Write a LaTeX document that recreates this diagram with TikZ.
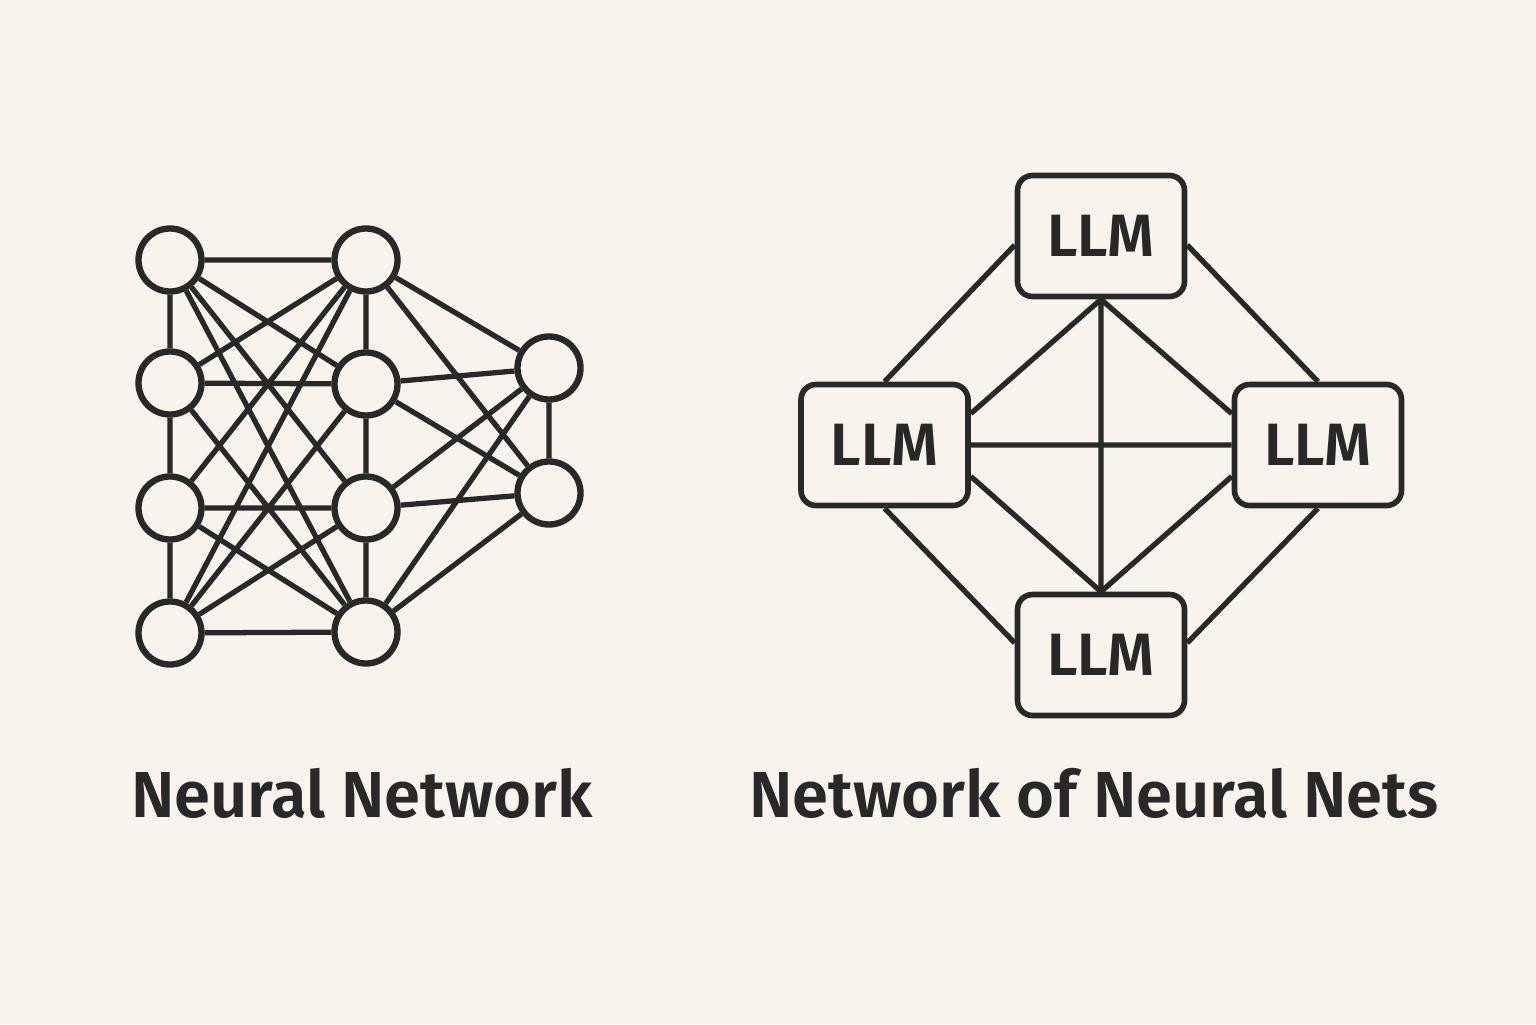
\documentclass[tikz,border=0pt]{standalone}
\usepackage{fontspec}
\setmainfont{Fira Sans}[BoldFont={* SemiBold}]
\usetikzlibrary{arrows}
\definecolor{paper}{RGB}{248,244,237}
\definecolor{ink}{RGB}{40,40,40}
\newcommand{\cellsize}{.63cm}
\newcommand{\wire}{1.5pt}

\begin{document}
\begin{tikzpicture}[
    neuron/.style={draw=ink, circle, fill=paper, line width=1.8pt, inner sep=0pt, minimum size=\cellsize},
    llm/.style={draw=ink, fill=paper, rounded corners=.15cm, line width=1.6pt, minimum width=1.67cm, minimum height=1.21cm, inner sep=0pt, text=ink, font=\fontsize{17}{17}\selectfont\bfseries},
    caption/.style={anchor=base, text=ink, inner sep=0pt, font=\fontsize{18.5}{20}\selectfont\bfseries}]
  \fill[paper] (0,0) rectangle (15.36,10.24);
  \useasboundingbox (0,0) rectangle (15.36,10.24);

      % left: small net
      \node (11) at (1.70,7.64) [neuron] {};
      \node (12) at (1.70,6.41) [neuron] {};
      \node (13) at (1.70,5.16) [neuron] {};
      \node (14) at (1.70,3.91) [neuron] {};
      \node (21) at (3.66,7.64) [neuron] {};
      \node (22) at (3.66,6.40) [neuron] {};
      \node (23) at (3.66,5.16) [neuron] {};
      \node (24) at (3.66,3.92) [neuron] {};
      \node (31) at (5.49,6.56) [neuron] {};
      \node (32) at (5.49,5.31) [neuron] {};
      \draw[ink, line width=\wire]
      (11) to (12) to (13) to (14)
      (21) to (22) to (23) to (24)
      (31) to (32)
      (11) to (21) (11) to (22) (11) to (23) (11) to (24)
      (12) to (21) (12) to (22) (12) to (24)
      (13) to (21) (13) to (23) (13) to (24)
      (14) to (21) (14) to (22) (14) to (23) (14) to (24)
      (21) to (31) (21) to (32) (22) to (31) (22) to (32)
      (23) to (31) (23) to (32) (24) to (31) (24) to (32);

      % right: net of LLMs
      \node (top) at (11.01,7.88) [llm] {LLM};
      \node (lft) at (8.845,5.79) [llm] {LLM};
      \node (rgt) at (13.18,5.79) [llm] {LLM};
      \node (bot) at (11.01,3.69) [llm] {LLM};
      \draw[ink, line width=\wire]
      (top.186) to (lft.north) (top.354) to (rgt.north)
      (lft.south) to (bot.172) (rgt.south) to (bot.8)
      (top.south) to (lft.20) (top.south) to (rgt.160)
      (bot.north) to (lft.-20) (bot.north) to (rgt.200)
      (top.south) to (bot.north) (lft.east) to (rgt.west);

      \node (cap1) at (3.62,2.07) [caption] {Neural Network};
      \node (cap2) at (10.94,2.07) [caption] {Network of Neural Nets};
\end{tikzpicture}
\end{document}
